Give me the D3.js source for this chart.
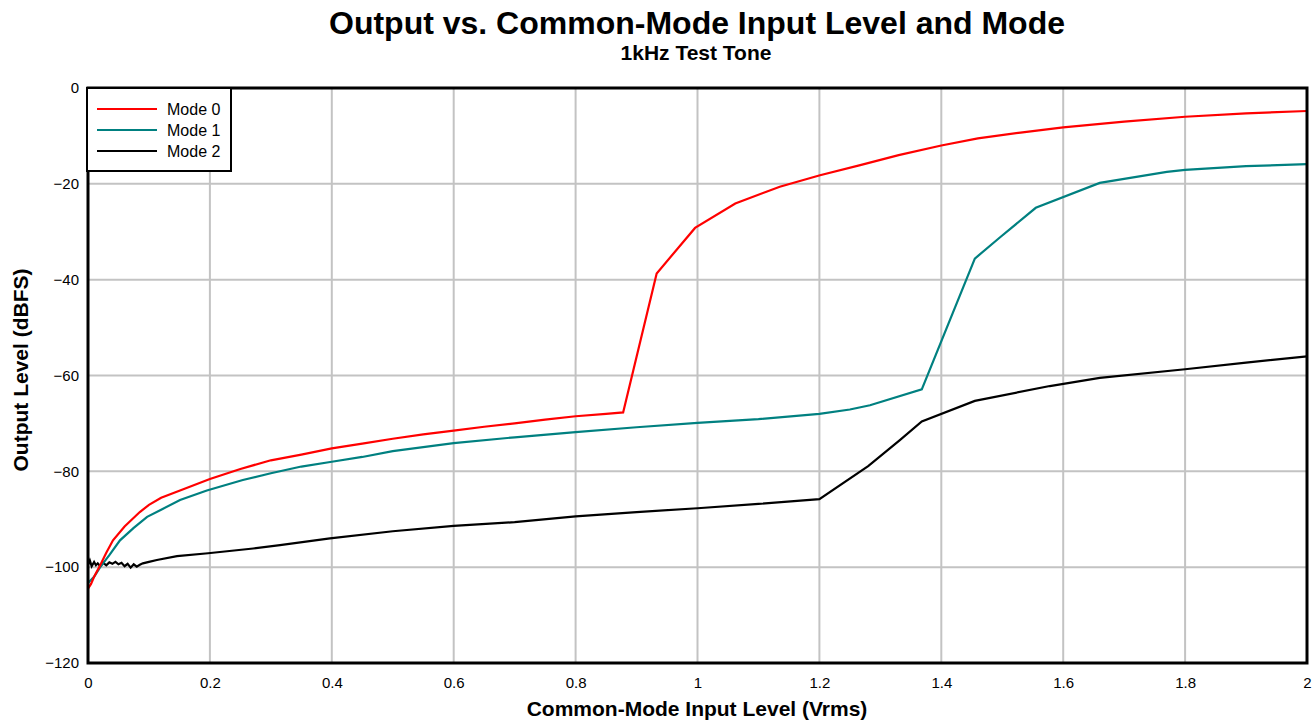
<!DOCTYPE html>
<html>
<head>
<meta charset="utf-8">
<script src="https://cdn.jsdelivr.net/npm/d3@7"></script>
<style>
  body { margin: 0; background: #fff; }
  svg text { font-family: "Liberation Sans", Arial, sans-serif; fill: #000; }
</style>
</head>
<body>
<div id="chart"></div>
<script>
// data
var mode0X = [0, 0.005, 0.01, 0.02, 0.03, 0.041, 0.06, 0.085, 0.1, 0.12, 0.151, 0.2, 0.25, 0.3, 0.35, 0.4, 0.45, 0.5, 0.55, 0.6, 0.65, 0.7, 0.75, 0.8, 0.85, 0.878, 0.933, 0.996, 1.062, 1.135, 1.201, 1.267, 1.33, 1.4, 1.46, 1.53, 1.6, 1.7, 1.8, 1.9, 2.0];
var mode0Y = [-104.5, -103.5, -102, -99.6, -97, -94.4, -91.5, -88.5, -87, -85.5, -84, -81.6, -79.5, -77.7, -76.5, -75.2, -74.2, -73.2, -72.3, -71.5, -70.7, -70, -69.2, -68.5, -68, -67.7, -38.7, -29.2, -24.1, -20.6, -18.2, -16.1, -14, -12, -10.5, -9.3, -8.2, -7, -6, -5.3, -4.8];

var mode1X = [0, 0.01, 0.02, 0.035, 0.0525, 0.075, 0.097, 0.12, 0.151, 0.195, 0.254, 0.3, 0.35, 0.4, 0.45, 0.5, 0.6, 0.7, 0.8, 0.9, 1.0, 1.1, 1.2, 1.25, 1.283, 1.368, 1.455, 1.496, 1.555, 1.66, 1.77, 1.8, 1.9, 2.0];
var mode1Y = [-103.3, -102, -100, -97.5, -94.4, -91.8, -89.5, -88, -86, -84, -81.8, -80.4, -79, -78, -77, -75.8, -74.1, -72.9, -71.8, -70.8, -69.9, -69.1, -68, -67.1, -66.2, -62.9, -35.6, -31.2, -25, -19.8, -17.5, -17.1, -16.3, -15.9];

var mode2X = [0, 0.003, 0.006, 0.01, 0.013, 0.016, 0.02, 0.025, 0.03, 0.035, 0.04, 0.045, 0.05, 0.055, 0.06, 0.065, 0.07, 0.075, 0.08, 0.085, 0.09, 0.1, 0.113, 0.146, 0.197, 0.271, 0.315, 0.397, 0.5, 0.6, 0.7, 0.8, 0.9, 1.0, 1.1, 1.2, 1.28, 1.332, 1.368, 1.455, 1.578, 1.66, 1.8, 1.9, 2.0];
var mode2Y = [-99.5, -98.6, -99.8, -98.9, -99.6, -99.2, -99.8, -99.1, -99.6, -99.0, -99.3, -98.9, -99.4, -99.1, -99.8, -99.3, -100.1, -99.4, -99.9, -99.5, -99.2, -98.9, -98.5, -97.7, -97.1, -96.1, -95.4, -94, -92.5, -91.4, -90.6, -89.4, -88.5, -87.7, -86.8, -85.8, -78.9, -73.5, -69.6, -65.3, -62.2, -60.5, -58.7, -57.3, -56];

var seriesNames = ["Mode 0", "Mode 1", "Mode 2"];
var xTicks = [0, 0.2, 0.4, 0.6, 0.8, 1, 1.2, 1.4, 1.6, 1.8, 2];
var yTicks = [0, -20, -40, -60, -80, -100, -120];

var colors = ["#ff0000", "#008080", "#000000"];

var W = 1314, H = 723;
var margin = {top: 88, right: 7, bottom: 60, left: 88};
var width = W - margin.left - margin.right,
    height = H - margin.top - margin.bottom;

var svg = d3.select("#chart").append("svg")
    .attr("width", W).attr("height", H);

svg.append("text")
    .attr("x", 697).attr("y", 34)
    .attr("text-anchor", "middle")
    .style("font-size", "32px").style("font-weight", "bold")
    .text("Output vs. Common-Mode Input Level and Mode");
svg.append("text")
    .attr("x", 696).attr("y", 60)
    .attr("text-anchor", "middle")
    .style("font-size", "21px").style("font-weight", "bold")
    .text("1kHz Test Tone");

var g = svg.append("g")
    .attr("transform", "translate(" + margin.left + "," + margin.top + ")");

var x = d3.scaleLinear().domain([0, 2]).range([0, width]);
var y = d3.scaleLinear().domain([-120, 0]).range([height, 0]);

// grid
g.append("g").selectAll("line").data(xTicks).enter().append("line")
    .attr("x1", d => x(d)).attr("x2", d => x(d))
    .attr("y1", 0).attr("y2", height)
    .attr("stroke", "#c3c3c3").attr("stroke-width", 2);
g.append("g").selectAll("line").data(yTicks).enter().append("line")
    .attr("x1", 0).attr("x2", width)
    .attr("y1", d => y(d)).attr("y2", d => y(d))
    .attr("stroke", "#c3c3c3").attr("stroke-width", 2);

// axes (labels only)
var xAxis = g.append("g")
    .attr("transform", "translate(0," + height + ")")
    .call(d3.axisBottom(x).tickValues(xTicks).tickSize(0).tickPadding(14).tickFormat(d3.format("~g")));
xAxis.select(".domain").remove();
xAxis.selectAll("text").style("font-size", "15px").style("font-family", "'Liberation Sans', Arial, sans-serif");

var yAxis = g.append("g")
    .call(d3.axisLeft(y).tickValues(yTicks).tickSize(0).tickPadding(9).tickFormat(d3.format("d")));
yAxis.select(".domain").remove();
yAxis.selectAll("text").style("font-size", "15px").style("font-family", "'Liberation Sans', Arial, sans-serif");

// series
var line = d3.line().x(d => x(d[0])).y(d => y(d[1]));
var seriesData = [
  d3.zip(mode0X, mode0Y),
  d3.zip(mode1X, mode1Y),
  d3.zip(mode2X, mode2Y)
];
// black first, red on top
[2, 1, 0].forEach(function(i) {
  g.append("path")
    .datum(seriesData[i])
    .attr("fill", "none")
    .attr("stroke", colors[i])
    .attr("stroke-width", 2.2)
    .attr("d", line);
});

// plot frame
g.append("rect")
    .attr("x", 0).attr("y", 0).attr("width", width).attr("height", height)
    .attr("fill", "none").attr("stroke", "#000").attr("stroke-width", 3);

// legend
var leg = g.append("g").attr("transform", "translate(-1,0)");
leg.append("rect")
    .attr("x", 0).attr("y", 0).attr("width", 144).attr("height", 83)
    .attr("fill", "#fff").attr("stroke", "#000").attr("stroke-width", 2);
seriesNames.forEach(function(name, i) {
  var ly = 21 + i * 21;
  leg.append("line")
    .attr("x1", 10).attr("x2", 70).attr("y1", ly).attr("y2", ly)
    .attr("stroke", colors[i]).attr("stroke-width", 2);
  leg.append("text")
    .attr("x", 80).attr("y", ly + 6)
    .style("font-size", "16px")
    .text(name);
});

// axis titles
svg.append("text")
    .attr("x", 697).attr("y", 716)
    .attr("text-anchor", "middle")
    .style("font-size", "21px").style("font-weight", "bold")
    .text("Common-Mode Input Level (Vrms)");
svg.append("text")
    .attr("transform", "translate(28,370) rotate(-90)")
    .attr("text-anchor", "middle")
    .style("font-size", "21px").style("font-weight", "bold")
    .text("Output Level (dBFS)");
</script>
</body>
</html>
